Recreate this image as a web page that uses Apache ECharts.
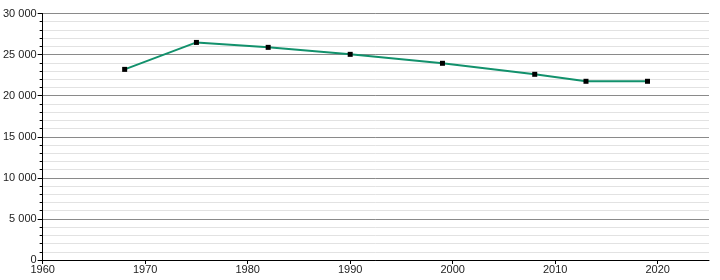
<!DOCTYPE html>
<html><head><meta charset="utf-8">
<script src="https://cdn.jsdelivr.net/npm/echarts@6/dist/echarts.min.js"></script>
<style>html,body{margin:0;padding:0;background:#fff}#c{width:720px;height:280px}</style>
</head><body><div id="c"></div>
<script>
const years = [1968, 1975, 1982, 1990, 1999, 2008, 2013, 2019];
const population = [23200, 26480, 25880, 25030, 23940, 22600, 21750, 21750];
const xTicks = [1960, 1970, 1980, 1990, 2000, 2010, 2020];

const chart = echarts.init(document.getElementById('c'));
const fmt = v => String(v).replace(/\B(?=(\d{3})+(?!\d))/g, ' ');
chart.setOption({
  animation: false,
  grid: {left: 42, right: 11, top: 13.5, bottom: 20, containLabel: false},
  xAxis: {
    type: 'value', min: 1960, max: 2025, interval: 10,
    axisLine: {show: true, onZero: false, lineStyle: {color: '#000', width: 1}},
    axisTick: {show: true, length: 4, customValues: xTicks, lineStyle: {color: '#000'}},
    axisLabel: {customValues: xTicks, formatter: v => String(v), color: '#222', fontSize: 11, fontFamily: 'Liberation Sans, Arial, sans-serif', margin: 4},
    splitLine: {show: false}
  },
  yAxis: {
    type: 'value', min: 0, max: 30000, interval: 5000,
    axisLine: {show: true, lineStyle: {color: '#000', width: 1}},
    axisTick: {show: true, length: 5, lineStyle: {color: '#000'}},
    minorTick: {show: true, splitNumber: 5, length: 3, lineStyle: {color: '#000'}},
    axisLabel: {formatter: fmt, color: '#222', fontSize: 11, fontFamily: 'Liberation Sans, Arial, sans-serif', margin: 6},
    splitLine: {show: true, lineStyle: {color: '#8a8a8a', width: 1}},
    minorSplitLine: {show: true, lineStyle: {color: '#e2e2e2', width: 1}}
  },
  series: [{
    type: 'line',
    data: years.map((y, i) => [y, population[i]]),
    lineStyle: {color: '#12916c', width: 2},
    symbol: 'rect', symbolSize: 5, showAllSymbol: true,
    itemStyle: {color: '#000', borderWidth: 0}
  }]
});
</script></body></html>
